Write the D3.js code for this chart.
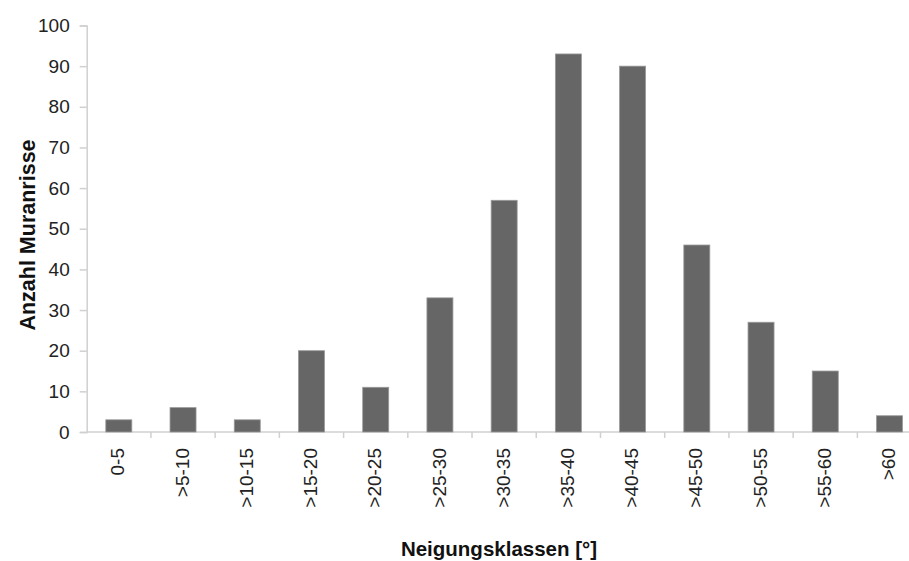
<!DOCTYPE html>
<html><head><meta charset="utf-8">
<script src="https://cdn.jsdelivr.net/npm/d3@7/dist/d3.min.js"></script>
<style>body{margin:0;background:#fff}svg{display:block}text{font-family:"Liberation Sans",Arial,sans-serif}</style>
</head><body>
<svg id="c" width="909" height="561"></svg>
<script>
const categories = ["0-5", ">5-10", ">10-15", ">15-20", ">20-25", ">25-30", ">30-35", ">35-40", ">40-45", ">45-50", ">50-55", ">55-60", ">60"];
const values = [3, 6, 3, 20, 11, 33, 57, 93, 90, 46, 27, 15, 4];
const yTicks = [0, 10, 20, 30, 40, 50, 60, 70, 80, 90, 100];
const xTitle = "Neigungsklassen [°]";
const yTitle = "Anzahl Muranrisse";

(function () {
const svg = d3.select("#c");
const pL = 86.7, pR = 921.6, pT = 25.5, pB = 432;
const x = d3.scaleBand().domain(categories).range([pL, pR]).paddingInner(0.595).paddingOuter(0.2975);
const xb = d3.scaleBand().domain(categories).range([pL, pR]);
const y = d3.scaleLinear().domain([0, 100]).range([pB, pT]);
const axisCol = "#d0d0d0";

// y axis
const ya = svg.append("g").attr("transform", `translate(${pL},0)`)
  .call(d3.axisLeft(y).tickValues(yTicks).tickSize(7).tickPadding(10));
ya.select(".domain").attr("stroke", axisCol).attr("stroke-width", 1.5);
ya.selectAll(".tick line").attr("stroke", axisCol).attr("stroke-width", 1.5);
ya.selectAll(".tick text").attr("font-size", 19).attr("fill", "#222").attr("font-family", "Liberation Sans, Arial, sans-serif");

// x axis line and ticks at band boundaries
svg.append("line").attr("x1", pL).attr("x2", 909).attr("y1", pB).attr("y2", pB)
  .attr("stroke", axisCol).attr("stroke-width", 1.5);
svg.append("g").selectAll("line").data(categories.slice(1)).join("line")
  .attr("x1", d => xb(d)).attr("x2", d => xb(d))
  .attr("y1", pB).attr("y2", pB + 6)
  .attr("stroke", axisCol).attr("stroke-width", 1.5);

// bars
svg.append("g").selectAll("rect").data(values).join("rect")
  .attr("x", (d, i) => x(categories[i]))
  .attr("width", x.bandwidth())
  .attr("y", d => y(d))
  .attr("height", d => y(0) - y(d))
  .attr("fill", "#666666")
  .attr("stroke", "#9a9a9a").attr("stroke-width", 0.8);

// x labels
svg.append("g").selectAll("text").data(categories).join("text")
  .attr("transform", d => `translate(${xb(d) + xb.bandwidth() / 2 - 1},448) rotate(-90)`)
  .attr("text-anchor", "end").attr("dy", "0.35em")
  .attr("font-size", 19).attr("fill", "#222")
  .text(d => d);

// titles
svg.append("text").attr("x", 499).attr("y", 556).attr("text-anchor", "middle")
  .attr("font-size", 20.5).attr("font-weight", "bold").attr("fill", "#111").text(xTitle);
svg.append("text").attr("transform", "translate(35,235) rotate(-90)").attr("text-anchor", "middle")
  .attr("font-size", 21.5).attr("font-weight", "bold").attr("fill", "#111").text(yTitle);
})();
</script>
</body></html>
